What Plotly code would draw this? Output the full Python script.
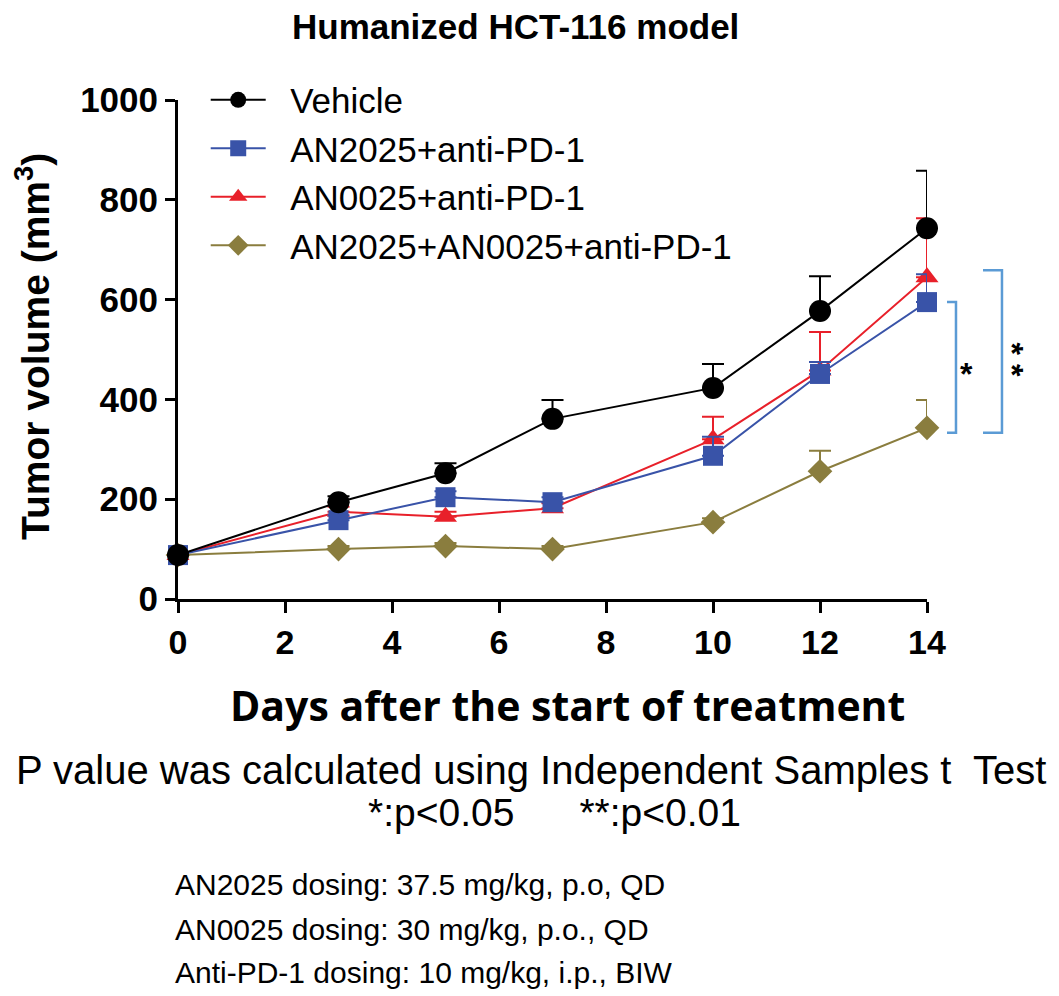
import plotly.graph_objects as go

days = [0, 3, 5, 7, 10, 12, 14]
series_names = ["Vehicle", "AN2025+anti-PD-1", "AN0025+anti-PD-1", "AN2025+AN0025+anti-PD-1"]
vehicle = [88, 194, 252, 361, 423, 577, 743]
vehicle_err = [5, 12, 20, 38, 48, 70, 115]
an2025 = [88, 158, 204, 194, 287, 451, 595]
an2025_err = [5, 10, 12, 10, 38, 24, 56]
an0025 = [88, 175, 165, 182, 320, 458, 645]
an0025_err = [5, 10, 10, 10, 45, 77, 118]
combo = [88, 100, 106, 100, 154, 256, 343]
combo_err = [4, 6, 6, 6, 8, 41, 56]
x_ticks = [0, 2, 4, 6, 8, 10, 12, 14]
y_ticks = [0, 200, 400, 600, 800, 1000]

colors = ["#000000", "#3953a8", "#e8202a", "#8a7d3e"]
symbols = ["circle", "square", "triangle-up", "diamond"]
sizes = [22, 20, 20, 19]
values = [vehicle, an2025, an0025, combo]
errors = [vehicle_err, an2025_err, an0025_err, combo_err]

fig = go.Figure()
draw_order = [3, 2, 1, 0]
for i in draw_order:
    fig.add_trace(go.Scatter(
        x=days, y=values[i], name="\u00a0\u00a0" + series_names[i], mode="lines+markers",
        line=dict(color=colors[i], width=2),
        marker=dict(symbol=symbols[i], size=sizes[i], color=colors[i]),
        error_y=dict(type="data", array=errors[i], arrayminus=[0]*len(days),
                     symmetric=False, color=colors[i], thickness=2, width=11),
        cliponaxis=False, legendrank=i + 1, legendgroup=f"g{i}",
    ))

bracket_color = "#5b9bd5"
# significance brackets (paper coordinates)
fig.add_shape(type="path", xref="paper", yref="paper",
              path="M 1.0267 0.595 L 1.0387 0.595 L 1.0387 0.333 L 1.0267 0.333",
              line=dict(color=bracket_color, width=2.5))
fig.add_shape(type="path", xref="paper", yref="paper",
              path="M 1.0748 0.659 L 1.1001 0.659 L 1.1001 0.333 L 1.0748 0.333",
              line=dict(color=bracket_color, width=2.5))
fig.add_annotation(x=1.053, y=0.45, xref="paper", yref="paper", text="<b>*</b>", showarrow=False,
                   xanchor="center", yanchor="middle",
                   font=dict(family="Arial", size=32, color="black"))
fig.add_annotation(x=1.114, y=0.479, xref="paper", yref="paper", text="<b>* *</b>", showarrow=False,
                   xanchor="center", yanchor="middle", textangle=90,
                   font=dict(family="Arial", size=32, color="black"))

def note(text, x, y, size, family="Arial", xanchor="center", angle=0):
    fig.add_annotation(x=x, y=y, xref="paper", yref="paper", text=text, showarrow=False,
                       xanchor=xanchor, yanchor="middle", textangle=angle,
                       font=dict(family=family, size=size, color="black"))

note("<b>Humanized HCT-116 model</b>", 0.451, 1.148, 35)
note("<b>Tumor volume (mm<sup>3</sup>)</b>", -0.195, 0.507, 39, angle=-90)
note("<b>Days after the start of treatment</b>", 0.52, -0.212, 41, family="Open Sans")
note("P value was calculated using Independent Samples t  Test", 0.471, -0.343, 40)
note("*:p&lt;0.05      **:p&lt;0.01", 0.503, -0.427, 39)
dosing = ["AN2025 dosing: 37.5 mg/kg, p.o, QD",
          "AN0025 dosing: 30 mg/kg, p.o., QD",
          "Anti-PD-1 dosing: 10 mg/kg, i.p., BIW"]
for t, yy in zip(dosing, [-0.573, -0.663, -0.749]):
    note(t, -0.007, yy, 30, xanchor="left")

fig.update_layout(
    width=1051, height=988,
    margin=dict(l=170, r=132, t=92, b=397),
    plot_bgcolor="white", paper_bgcolor="white",
    showlegend=True,
    legend=dict(x=0.037, y=1.059, xanchor="left", yanchor="top",
                font=dict(family="Arial", size=35, color="black"),
                tracegroupgap=0, itemwidth=55, bgcolor="rgba(0,0,0,0)"),
    xaxis=dict(range=[0, 14], tickvals=x_ticks, showgrid=False, zeroline=False,
               showline=True, linecolor="black", linewidth=3,
               ticks="outside", ticklen=11, tickwidth=3, tickcolor="black",
               tickfont=dict(family="Arial", size=34, color="black", weight="bold")),
    yaxis=dict(range=[0, 1000], tickvals=y_ticks, showgrid=False, zeroline=False,
               showline=True, linecolor="black", linewidth=3,
               ticks="outside", ticklen=10, tickwidth=3, tickcolor="black",
               tickfont=dict(family="Arial", size=35, color="black", weight="bold")),
)

fig.write_html("out.html")
